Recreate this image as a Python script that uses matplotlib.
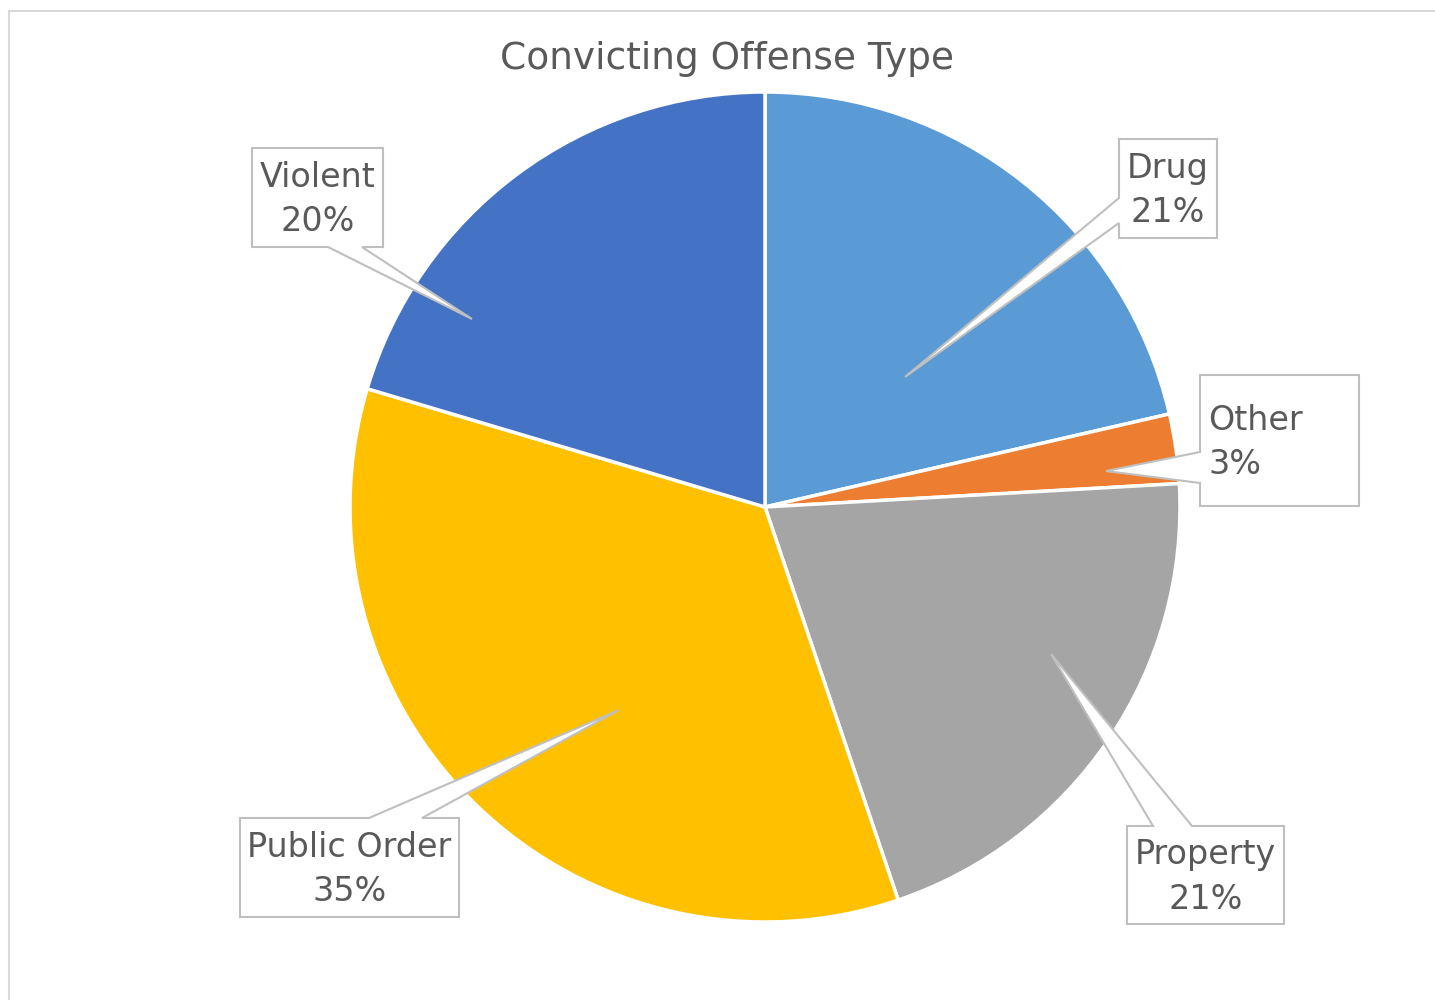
import matplotlib
matplotlib.use("Agg")
import matplotlib.pyplot as plt
from matplotlib.patches import Polygon, Rectangle

# data (percent of total)
categories = ['Drug', 'Other', 'Property', 'Public Order', 'Violent']
shares = [21.4, 2.7, 20.7, 34.8, 20.4]
colors = ['#5B9BD5', '#ED7D31', '#A5A5A5', '#FFC000', '#4472C4']

W, H = 1435, 1000
TXT = '#595959'

fig = plt.figure(figsize=(W / 100, H / 100), dpi=100)
ax = fig.add_axes([0, 0, 1, 1])

# pie drawn in pixel-like coordinates (y up)
ax.pie(shares, colors=colors, startangle=90, counterclock=False,
       center=(765, H - 507), radius=415,
       wedgeprops=dict(edgecolor='white', linewidth=2.5))
ax.set_xlim(0, W)
ax.set_ylim(0, H)
ax.set_aspect('equal')
ax.axis('off')

# chart area border
ax.add_patch(Rectangle((8.5, -20), W + 50, H - 10.5 + 20, fill=False,
                       edgecolor='#D9D9D9', linewidth=1.5, zorder=0))

ax.text(727, H - 59, 'Convicting Offense Type', ha='center', va='center',
        fontsize=27, color=TXT)


def callout(box, side, base, tip):
    # box = (x0, y0, x1, y1) in screen pixels (y down)
    x0, y0, x1, y1 = box
    a, b = base
    if side == 'left':
        pts = [(x0, y0), (x1, y0), (x1, y1), (x0, y1), (x0, b), tip, (x0, a)]
    elif side == 'top':
        pts = [(x0, y0), (a, y0), tip, (b, y0), (x1, y0), (x1, y1), (x0, y1)]
    else:  # bottom
        pts = [(x0, y0), (x1, y0), (x1, y1), (b, y1), tip, (a, y1), (x0, y1)]
    pts = [(x, H - y) for x, y in pts]
    ax.add_patch(Polygon(pts, closed=True, facecolor='white',
                         edgecolor='#BFBFBF', linewidth=1.5, zorder=5))


# label layout: box, attached side, wedge base, tip, text anchor
layout = {
    'Drug': ((1119, 139, 1217, 238), 'left', (198, 223), (905, 377), 'center'),
    'Other': ((1200, 375, 1359, 506), 'left', (452, 483), (1106, 471), 'left'),
    'Property': ((1127, 826, 1284, 924), 'top', (1153, 1192), (1051, 654), 'center'),
    'Public Order': ((240, 818, 459, 917), 'top', (369, 422), (619, 710), 'center'),
    'Violent': ((252, 148, 383, 247), 'bottom', (328, 362), (472, 319), 'center'),
}

for name, v in zip(categories, shares):
    box, side, base, tip, align = layout[name]
    callout(box, side, base, tip)
    x0, y0, x1, y1 = box
    tx = (x0 + x1) / 2 if align == 'center' else x0 + 8
    ty = (y0 + y1) / 2 + 2
    ax.text(tx, H - ty, f"{name}\n{round(v):.0f}%", ha=align, va='center',
            multialignment=align, fontsize=24, color=TXT, zorder=6,
            linespacing=1.45)

fig.savefig('out.png', dpi=100, facecolor='white')
